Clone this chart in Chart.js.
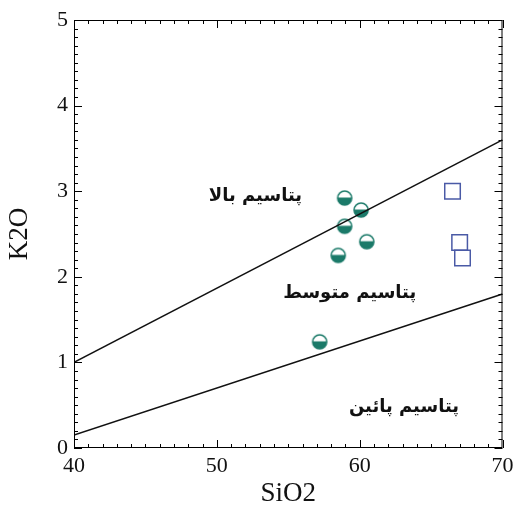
<!DOCTYPE html>
<html>
<head>
<meta charset="utf-8">
<script src="https://cdn.jsdelivr.net/npm/chart.js@4.4.1/dist/chart.umd.min.js"></script>
<style>
  body { margin: 0; background: #fff; }
  #wrap { width: 515px; height: 514px; }
</style>
</head>
<body>
<div id="wrap"><canvas id="c" width="515" height="514"></canvas></div>
<script>
// data
var circleX = [58.95, 60.1, 58.95, 60.5, 58.5, 57.2];
var circleY = [2.92, 2.78, 2.59, 2.41, 2.25, 1.24];
var squareX = [66.5, 67.0, 67.2];
var squareY = [3.0, 2.4, 2.22];
var upperLineX = [40, 70];
var upperLineY = [1.0, 3.6];
var lowerLineX = [40, 70];
var lowerLineY = [0.15, 1.8];
var xTicks = [40, 50, 60, 70];
var yTicks = [0, 1, 2, 3, 4, 5];
var zoneNames = ['پتاسیم بالا', 'پتاسیم متوسط', 'پتاسیم پائین'];
var zoneX = [52.7, 59.3, 63.1];
var zoneY = [2.94, 1.81, 0.48];

var teal = '#1b7a69';
var blue = '#4a5aa6';

function pts(xs, ys) {
    var out = [];
    for (var i = 0; i < xs.length; i++) out.push({x: xs[i], y: ys[i]});
    return out;
}

// half filled circle marker
function makeCircle() {
    var cv = document.createElement('canvas');
    cv.width = 18; cv.height = 18;
    var g = cv.getContext('2d');
    g.fillStyle = '#fff';
    g.beginPath(); g.arc(9, 9, 7, 0, Math.PI * 2); g.fill();
    g.save();
    g.beginPath(); g.arc(9, 9, 7, 0, Math.PI * 2); g.clip();
    g.fillStyle = teal;
    g.fillRect(0, 8.5, 18, 10);
    g.restore();
    g.strokeStyle = teal;
    g.lineWidth = 1.6;
    g.beginPath(); g.arc(9, 9, 7, 0, Math.PI * 2); g.stroke();
    return cv;
}

// inward ticks, frame and zone names
var framePlugin = {
    id: 'frame',
    afterDraw: function (chart) {
        var ctx = chart.ctx, a = chart.chartArea;
        var xs = chart.scales.x, ys = chart.scales.y;
        ctx.save();
        ctx.strokeStyle = '#000';
        ctx.lineWidth = 1;
        ctx.strokeRect(a.left + 0.5, a.top + 0.5, a.right - a.left - 1, a.bottom - a.top - 1);
        ctx.beginPath();
        for (var v = 40; v <= 70; v += 1) {
            var px = Math.round(xs.getPixelForValue(v)) + 0.5;
            var len = (v % 10 === 0) ? 8 : 4;
            ctx.moveTo(px, a.bottom); ctx.lineTo(px, a.bottom - len);
            ctx.moveTo(px, a.top); ctx.lineTo(px, a.top + len);
        }
        for (var k = 0; k <= 50; k++) {
            var py = Math.round(ys.getPixelForValue(k / 10)) + 0.5;
            var l2 = (k % 10 === 0) ? 8 : 4;
            ctx.moveTo(a.left, py); ctx.lineTo(a.left + l2, py);
            ctx.moveTo(a.right, py); ctx.lineTo(a.right - l2, py);
        }
        ctx.stroke();

        ctx.fillStyle = '#111';
        ctx.font = 'bold 18px "DejaVu Sans"';
        ctx.textAlign = 'center';
        ctx.textBaseline = 'middle';
        ctx.direction = 'rtl';
        for (var i = 0; i < zoneNames.length; i++) {
            ctx.fillText(zoneNames[i], xs.getPixelForValue(zoneX[i]), ys.getPixelForValue(zoneY[i]));
        }
        ctx.restore();
    }
};

new Chart(document.getElementById('c'), {
    type: 'scatter',
    data: {
        datasets: [
            {
                type: 'line',
                data: pts(upperLineX, upperLineY),
                borderColor: '#111',
                borderWidth: 1.5,
                pointRadius: 0
            },
            {
                type: 'line',
                data: pts(lowerLineX, lowerLineY),
                borderColor: '#111',
                borderWidth: 1.5,
                pointRadius: 0
            },
            {
                data: pts(circleX, circleY),
                pointStyle: makeCircle(),
                pointRadius: 8
            },
            {
                data: pts(squareX, squareY),
                pointStyle: 'rect',
                pointRadius: 11,
                borderColor: blue,
                borderWidth: 1.5,
                backgroundColor: 'rgba(0,0,0,0)'
            }
        ]
    },
    options: {
        responsive: false,
        animation: false,
        layout: { padding: { top: 20, right: 11, left: 0, bottom: 0 } },
        plugins: { legend: { display: false }, tooltip: { enabled: false } },
        scales: {
            x: {
                min: 40, max: 70,
                afterBuildTicks: function (s) { s.ticks = xTicks.map(function (v) { return {value: v}; }); },
                grid: { display: false, drawTicks: false },
                border: { display: false },
                ticks: { color: '#111', font: { family: 'Liberation Serif', size: 22 }, padding: 5, maxRotation: 0 },
                title: { display: true, text: 'SiO2', color: '#111', font: { family: 'Liberation Serif', size: 27 }, padding: { top: 0 } },
                afterFit: function (s) { s.height = 66; s.paddingRight = 0; s.paddingLeft = 0; }
            },
            y: {
                min: 0, max: 5,
                afterBuildTicks: function (s) { s.ticks = yTicks.map(function (v) { return {value: v}; }); },
                grid: { display: false, drawTicks: false },
                border: { display: false },
                ticks: { color: '#111', font: { family: 'Liberation Serif', size: 22 }, padding: 6 },
                title: { display: true, text: 'K2O', color: '#111', font: { family: 'Liberation Serif', size: 27 }, padding: { bottom: 4 } },
                afterFit: function (s) { s.width = 74; s.paddingTop = 0; s.paddingBottom = 0; }
            }
        }
    },
    plugins: [framePlugin]
});
</script>
</body>
</html>
